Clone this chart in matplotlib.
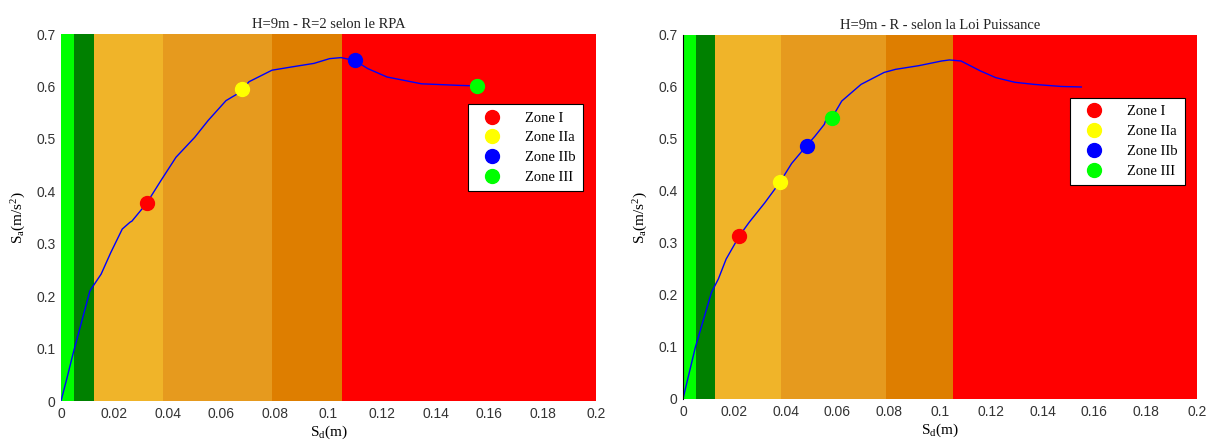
import matplotlib
matplotlib.use("Agg")
import matplotlib.pyplot as plt
from matplotlib.lines import Line2D

plt.rcParams["mathtext.fontset"] = "custom"
plt.rcParams["mathtext.rm"] = "Liberation Serif"
plt.rcParams["mathtext.it"] = "Liberation Serif"

# Performance zone boundaries along the displacement axis (m) and their colours
zone_edges = [0.0, 0.005, 0.0125, 0.038, 0.079, 0.105, 0.2]
zone_colors = ["#00FF00", "#008000", "#F0B429", "#E69A1E", "#DE7E00", "#FF0000"]

# Capacity curve, left panel (RPA, R=2)
sd_rpa = [0.0, 0.0021, 0.0046, 0.0108, 0.0129, 0.015, 0.0186, 0.0229, 0.0258,
          0.0265, 0.032, 0.0373, 0.043, 0.050, 0.055, 0.0617, 0.066, 0.0678,
          0.0703, 0.0789, 0.086, 0.0946, 0.1004, 0.1047, 0.1098, 0.1147,
          0.1219, 0.1348, 0.149, 0.1554]
sa_rpa = [0.0, 0.041, 0.092, 0.21, 0.226, 0.242, 0.283, 0.328, 0.341,
          0.343, 0.377, 0.42, 0.465, 0.503, 0.535, 0.573, 0.586, 0.5946,
          0.609, 0.631, 0.637, 0.644, 0.653, 0.655, 0.6495, 0.634,
          0.618, 0.605, 0.602, 0.601]

# Capacity curve, right panel (power law)
sd_pl = [0.0, 0.0048, 0.0111, 0.0138, 0.0168, 0.022, 0.0258, 0.0318, 0.0379,
         0.0423, 0.0481, 0.0513, 0.055, 0.0558, 0.058, 0.0618, 0.0693, 0.0783,
         0.0828, 0.0918, 0.1007, 0.1037, 0.1082, 0.1157, 0.1217, 0.1292,
         0.1367, 0.1472, 0.155]
sa_pl = [0.0, 0.099, 0.205, 0.231, 0.269, 0.314, 0.34, 0.377, 0.418,
         0.453, 0.487, 0.505, 0.528, 0.539, 0.541, 0.573, 0.605, 0.628,
         0.634, 0.641, 0.650, 0.652, 0.650, 0.631, 0.618, 0.609,
         0.605, 0.601, 0.600]

# Performance points per zone
zone_names = ["Zone I", "Zone IIa", "Zone IIb", "Zone III"]
point_colors = ["#FF0000", "#FFFF00", "#0000FF", "#00FF00"]
pts_rpa_sd = [0.032, 0.0678, 0.1098, 0.1554]
pts_rpa_sa = [0.377, 0.5946, 0.6495, 0.601]
pts_pl_sd = [0.022, 0.0379, 0.0481, 0.058]
pts_pl_sa = [0.314, 0.418, 0.487, 0.541]

xticks = [0, 0.02, 0.04, 0.06, 0.08, 0.1, 0.12, 0.14, 0.16, 0.18, 0.2]
xtick_labels = ["0", "0.02", "0.04", "0.06", "0.08", "0.1", "0.12", "0.14", "0.16", "0.18", "0.2"]
yticks = [0, 0.1, 0.2, 0.3, 0.4, 0.5, 0.6, 0.7]
ytick_labels = ["0", "0.1", "0.2", "0.3", "0.4", "0.5", "0.6", "0.7"]

titles = ["H=9m - R=2 selon le RPA", "H=9m - R - selon la Loi Puissance"]

serif = "Liberation Serif"
sans = "Liberation Sans"

fig = plt.figure(figsize=(12.15, 4.44), dpi=100)
ax1 = fig.add_axes([0.0502, 0.0968, 0.4403, 0.8266])
ax2 = fig.add_axes([0.5621, 0.1014, 0.4230, 0.8198])

panels = [
    (ax1, sd_rpa, sa_rpa, pts_rpa_sd, pts_rpa_sa, (0.976, 0.809)),
    (ax2, sd_pl, sa_pl, pts_pl_sd, pts_pl_sa, (0.977, 0.827)),
]

for i, (ax, sd, sa, psd, psa, anchor) in enumerate(panels):
    for x0, x1, c in zip(zone_edges[:-1], zone_edges[1:], zone_colors):
        ax.axvspan(x0, x1, color=c, lw=0, zorder=0)
    ax.plot(sd, sa, color="#0000FF", lw=1.0, zorder=2)
    for x, y, c in zip(psd, psa, point_colors):
        ax.plot([x], [y], "o", color=c, ms=10, mec=c, zorder=3)
    ax.set_xlim(0, 0.2)
    ax.set_ylim(0, 0.7)
    ax.set_xticks(xticks)
    ax.set_xticklabels(xtick_labels, family=sans, fontsize=10, color="#333333")
    ax.set_yticks(yticks)
    ax.set_yticklabels(ytick_labels, family=sans, fontsize=10, color="#333333")
    ax.tick_params(length=0, pad=4)
    for s in ax.spines.values():
        s.set_visible(False)
    if i == 1:
        ax.spines["left"].set_visible(True)
        ax.spines["left"].set_linewidth(0.8)
    ax.set_title(titles[i], family=serif, fontsize=10.5, color="#222222", pad=4)
    ax.set_xlabel(r"S$_{\mathrm{d}}$(m)", family=serif, fontsize=11, labelpad=2)
    ax.set_ylabel(r"S$_{\mathrm{a}}$(m/s$^{2}$)", family=serif, fontsize=11, labelpad=6)

    handles = [Line2D([], [], ls="none", marker="o", ms=10, color=c, mec=c)
               for c in point_colors]
    leg = ax.legend(handles, zone_names, loc="upper right", bbox_to_anchor=anchor,
                    borderaxespad=0, fancybox=False, framealpha=1,
                    edgecolor="black", prop={"family": serif, "size": 10.5},
                    handletextpad=1.2, labelspacing=0.45, borderpad=0.5,
                    handlelength=2.2)
    leg.get_frame().set_linewidth(0.8)

fig.savefig("out.png", dpi=100)
